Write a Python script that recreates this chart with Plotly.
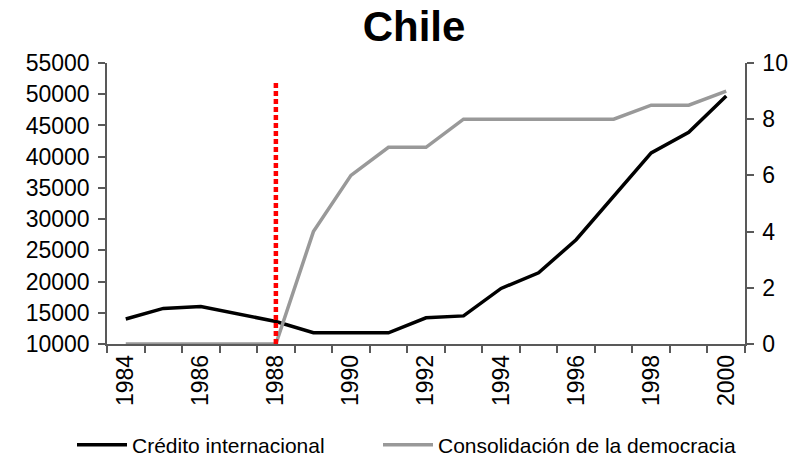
import plotly.graph_objects as go

years = list(range(1984, 2001))
credito = [14000, 15700, 16000, 14800, 13600, 11800, 11800, 11800, 14200, 14500,
           18900, 21400, 26700, 33600, 40600, 43900, 49700]
democracia = [0, 0, 0, 0, 0, 4, 6, 7, 7, 8, 8, 8, 8, 8, 8.5, 8.5, 9]
tick_labels = [str(y) for y in range(1984, 2001, 2)]
event_year = 1988
event_top = 52000

FONT = "Liberation Sans, Arial, sans-serif"
AXIS_COLOR = "#595959"

fig = go.Figure()
fig.add_trace(go.Scatter(
    x=years, y=credito, name="Crédito internacional", mode="lines",
    line=dict(color="#000000", width=3.5), yaxis="y", hoverinfo="skip",
    legend="legend"))
fig.add_trace(go.Scatter(
    x=years, y=democracia, name="Consolidación de la democracia", mode="lines",
    line=dict(color="#999999", width=3.5), yaxis="y2", hoverinfo="skip",
    legend="legend2"))

fig.add_shape(type="line", xref="x", yref="y", x0=event_year, x1=event_year,
              y0=10000, y1=event_top,
              line=dict(color="#ff0000", width=4.5, dash="5px,3px"))

legend_common = dict(orientation="h", xref="container", xanchor="left",
                     y=12 / 457, yref="container", yanchor="middle",
                     font=dict(size=21, family=FONT), itemwidth=50,
                     bgcolor="rgba(0,0,0,0)")

fig.update_layout(
    width=794, height=457,
    margin=dict(l=107, r=49, t=63, b=113, autoexpand=False),
    paper_bgcolor="white", plot_bgcolor="white",
    font=dict(family=FONT, color="#000000", size=23),
    title=dict(text="<b>Chile</b>", font=dict(size=42, family=FONT, color="#000"),
               x=414 / 794, xref="container", xanchor="center",
               y=1 - 26 / 457, yref="container", yanchor="middle"),
    showlegend=True,
    legend=dict(x=72 / 794, **legend_common),
    legend2=dict(x=378 / 794, **legend_common),
    xaxis=dict(
        range=[1983.5, 2000.5], automargin=False,
        tickvals=[int(t) for t in tick_labels], ticktext=tick_labels,
        tickangle=-90, ticks="", showgrid=False, zeroline=False,
        showline=True, linecolor=AXIS_COLOR, linewidth=1.5,
        tickfont=dict(size=23),
        minor=dict(tick0=1983.5, dtick=1, ticks="outside", ticklen=7,
                   tickcolor=AXIS_COLOR, tickwidth=1.5, showgrid=False),
    ),
    yaxis=dict(
        range=[10000, 55000], dtick=5000, tick0=10000, tickformat="d",
        automargin=False,
        ticks="outside", ticklen=7, tickcolor=AXIS_COLOR, tickwidth=1.5,
        showline=True, linecolor=AXIS_COLOR, linewidth=1.5,
        showgrid=False, zeroline=False, tickfont=dict(size=23),
        ticklabelstandoff=4,
    ),
    yaxis2=dict(
        range=[0, 10], dtick=2, tick0=0, overlaying="y", side="right",
        automargin=False,
        ticks="outside", ticklen=7, tickcolor=AXIS_COLOR, tickwidth=1.5,
        showline=True, linecolor=AXIS_COLOR, linewidth=1.5,
        showgrid=False, zeroline=False, tickfont=dict(size=23),
        ticklabelstandoff=4,
    ),
)

fig.write_html("out.html", config={"displayModeBar": False},
               post_script="document.body.style.margin='0';")
